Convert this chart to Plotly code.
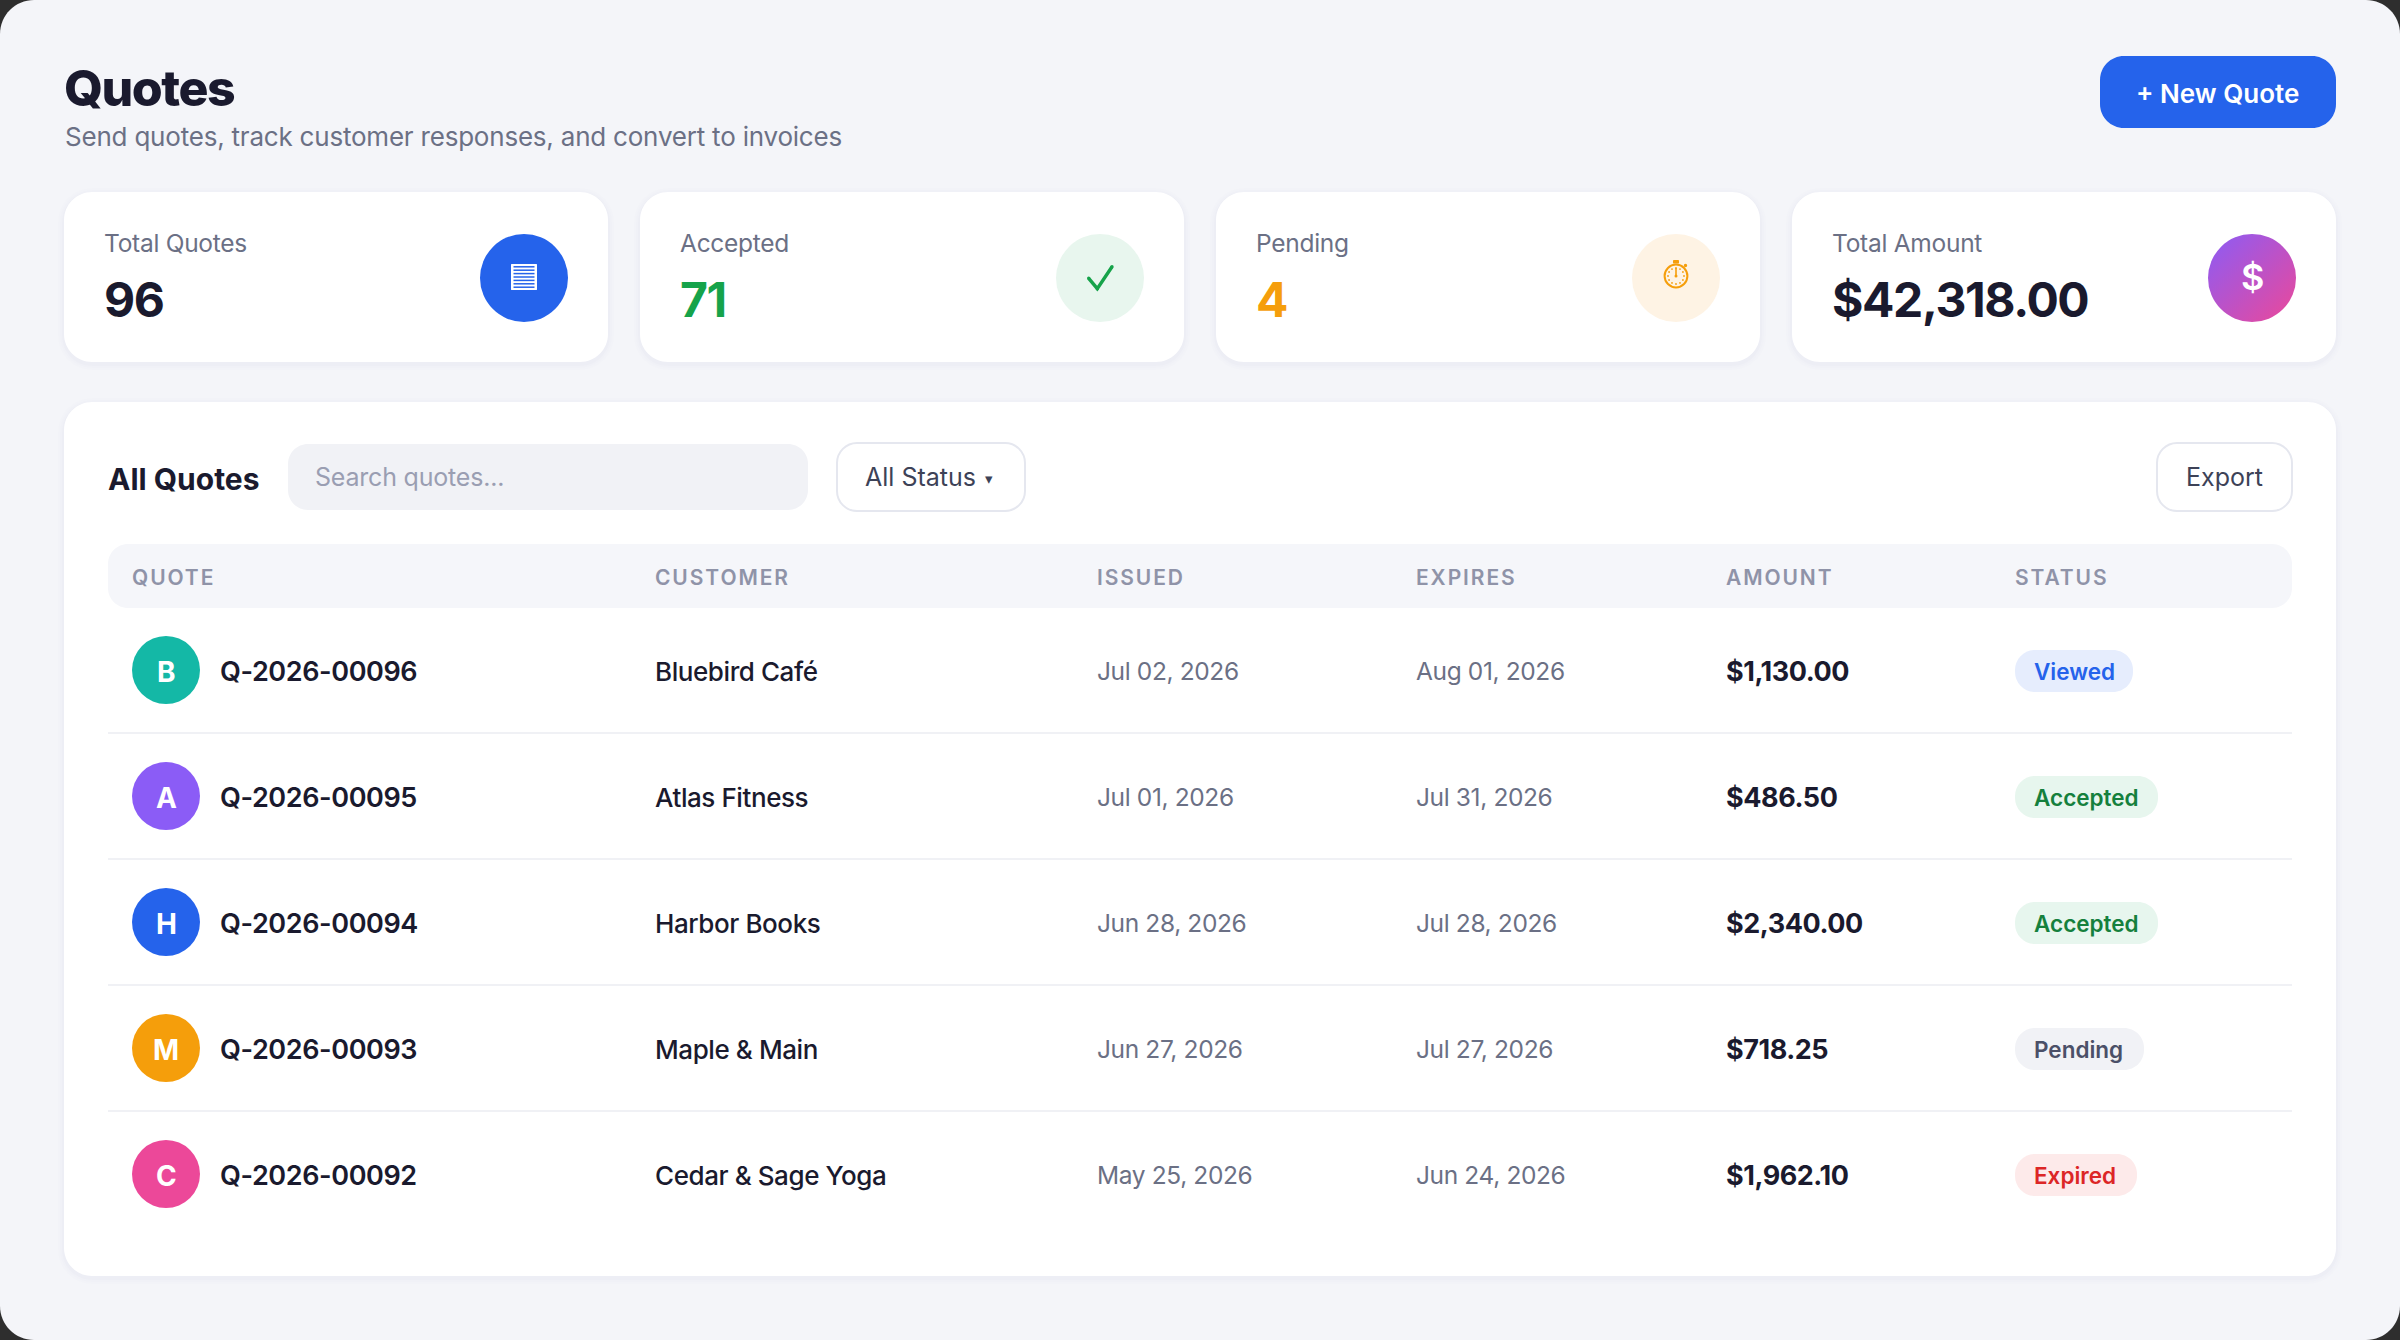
import json
import math
import plotly.graph_objects as go

# ---- data ----
page_title = "Quotes"
page_subtitle = "Send quotes, track customer responses, and convert to invoices"
stat_labels = ["Total Quotes", "Accepted", "Pending", "Total Amount"]
stat_values = ["96", "71", "4", "$42,318.00"]
column_heads = ["QUOTE", "CUSTOMER", "ISSUED", "EXPIRES", "AMOUNT", "STATUS"]
initials = ["B", "A", "H", "M", "C"]
quote_ids = ["Q-2026-00096", "Q-2026-00095", "Q-2026-00094", "Q-2026-00093", "Q-2026-00092"]
customers = ["Bluebird Café", "Atlas Fitness", "Harbor Books", "Maple & Main", "Cedar & Sage Yoga"]
issued = ["Jul 02, 2026", "Jul 01, 2026", "Jun 28, 2026", "Jun 27, 2026", "May 25, 2026"]
expires = ["Aug 01, 2026", "Jul 31, 2026", "Jul 28, 2026", "Jul 27, 2026", "Jun 24, 2026"]
amounts = ["$1,130.00", "$486.50", "$2,340.00", "$718.25", "$1,962.10"]
statuses = ["Viewed", "Accepted", "Accepted", "Pending", "Expired"]

# ---- style ----
W, H = 2400, 1340
FONT = "Inter"
INK = "#1a1a2e"
MUTED = "#6b7085"
PAGE = "#f4f5f9"
BLUE = "#2563eb"
GREEN = "#16a34a"
AMBER = "#f59e0b"
avatar_colors = ["#14b8a6", "#8b5cf6", BLUE, AMBER, "#ec4899"]
status_style = {
    "Viewed": ("#e6edfd", BLUE, 118),
    "Accepted": ("#e7f6ee", "#15803d", 143),
    "Pending": ("#f1f2f6", "#4b5068", 129),
    "Expired": ("#fdeaea", "#dc2626", 122),
}
stat_colors = [INK, GREEN, AMBER, INK]
icon_fill = [BLUE, "#e8f6ee", "#fef3e4", None]
col_x = [132, 655, 1097, 1416, 1726, 2015]
row_y = [670, 796, 922, 1048, 1174]
card_x = [64, 640, 1216, 1792]
CARD_W = 544

shapes, notes, spacing = [], [], []


def rrect(x0, y0, x1, y1, r, fill, line=None, lw=0, layer="below"):
    k = r * 0.4477
    p = (f"M{x0+r},{y0} L{x1-r},{y0} C{x1-k},{y0} {x1},{y0+k} {x1},{y0+r} "
         f"L{x1},{y1-r} C{x1},{y1-k} {x1-k},{y1} {x1-r},{y1} "
         f"L{x0+r},{y1} C{x0+k},{y1} {x0},{y1-k} {x0},{y1-r} "
         f"L{x0},{y0+r} C{x0},{y0+k} {x0+k},{y0} {x0+r},{y0} Z")
    shapes.append(dict(type="path", path=p, xref="x", yref="y", fillcolor=fill,
                       line=dict(color=line or "rgba(0,0,0,0)", width=lw), layer=layer))


def disc(cx, cy, r, fill, line=None, lw=0):
    shapes.append(dict(type="circle", xref="x", yref="y", x0=cx - r, x1=cx + r, y0=cy - r, y1=cy + r,
                       fillcolor=fill, line=dict(color=line or "rgba(0,0,0,0)", width=lw), layer="below"))


def seg(points, color, lw):
    p = "M" + " L".join(f"{x},{y}" for x, y in points)
    shapes.append(dict(type="path", path=p, xref="x", yref="y", fillcolor="rgba(0,0,0,0)",
                       line=dict(color=color, width=lw), layer="below"))


def shadowed(x0, y0, x1, y1, r):
    for g, a in [(6, 0.006), (4, 0.008), (2, 0.012)]:
        rrect(x0 - g, y0 - g + 2, x1 + g, y1 + g + 2, r + g, f"rgba(30,35,70,{a})")
    rrect(x0, y0, x1, y1, r, "#ffffff")


def text(x, y, s, size, color, weight=400, anchor="left", family=FONT, ls=0):
    notes.append(dict(x=x, y=y, text=s, xref="x", yref="y", xanchor=anchor, yanchor="middle",
                      showarrow=False, borderpad=0, borderwidth=0,
                      font=dict(family=family, size=size, color=color, weight=weight)))
    spacing.append(ls)


def list_icon(cx, cy):
    rrect(cx - 13, cy - 13, cx + 13, cy + 13, 0.5, "#ffffff")
    for k in range(7):
        yy = cy - 10.2 + k * 3.4
        seg([(cx - 10.5, yy), (cx + 10.5, yy)], BLUE, 1.5)


def check_icon(cx, cy):
    pts = [(cx - 11.3, cy + 1.3), (cx - 2.7, cy + 11.7), (cx + 12, cy - 10.3)]
    seg(pts, GREEN, 3.4)
    for x, y in pts:
        disc(x, y, 1.7, GREEN)


def watch_icon(cx, cy):
    disc(cx, cy + 1, 11.4, "rgba(0,0,0,0)", AMBER, 2)
    rrect(cx - 3, cy - 15, cx + 3, cy - 11.5, 1, AMBER)
    disc(cx + 9.5, cy - 9.5, 1.7, AMBER)
    for k in range(12):
        a = math.radians(k * 30)
        disc(cx + 8 * math.sin(a), cy + 1 - 8 * math.cos(a), 0.9, AMBER)
    seg([(cx, cy - 7), (cx, cy + 1)], AMBER, 1.6)
    disc(cx, cy + 1, 1.5, AMBER)


# window
rrect(0, 0, W, H, 34, PAGE)

# header
text(64, 88, page_title, 50, INK, 800, ls=-1.5)
text(64.5, 136.5, page_subtitle, 26, MUTED, ls=-0.21)
rrect(2100, 56, 2336, 128, 24, BLUE)
text(2217.5, 93, "+ New Quote", 26, "#ffffff", 600, "center")

# stat cards
images = []
for i, x in enumerate(card_x):
    shadowed(x, 192, x + CARD_W, 362, 28)
    text(x + 40, 243, stat_labels[i], 24.5, MUTED, ls=-0.27)
    text(x + 40, 299, stat_values[i], 48, stat_colors[i], 700, ls=-1.4)
    cx = 524 + 576 * i
    if icon_fill[i]:
        disc(cx, 278, 44, icon_fill[i])
    else:
        svg = ("data:image/svg+xml;utf8,<svg xmlns='http://www.w3.org/2000/svg' width='88' height='88'>"
               "<defs><linearGradient id='g' x1='0' y1='0' x2='1' y2='1'>"
               "<stop offset='0' stop-color='%238b5cf6'/><stop offset='1' stop-color='%23ec4899'/>"
               "</linearGradient></defs><circle cx='44' cy='44' r='44' fill='url(%23g)'/></svg>")
        images.append(dict(source=svg, xref="x", yref="y", x=cx - 44, y=234, sizex=88, sizey=88,
                           xanchor="left", yanchor="top", layer="below"))
list_icon(524, 277)
check_icon(1100, 277)
watch_icon(1676, 275)
text(2252, 277, "$", 36, "#ffffff", 600, "center")

# table panel
shadowed(64, 402, 2336, 1276, 28)
text(108, 479, "All Quotes", 30, INK, 700)
rrect(288, 444, 808, 510, 20, "#f1f2f6")
text(315, 477, "Search quotes...", 25, "#9a9eb2", ls=-0.2)
rrect(837, 443, 1025, 511, 20, "#ffffff", "#e5e7ef", 2)
text(865, 477, "All Status", 25, "#3d4257")
text(989, 478, "▾", 15, "#3d4257", anchor="center")
rrect(2157, 443, 2292, 511, 20, "#ffffff", "#e5e7ef", 2)
text(2224, 477, "Export", 25, "#3d4257", anchor="center")

rrect(108, 544, 2292, 608, 20, "#f5f6fa")
for x, head in zip(col_x, column_heads):
    text(x, 577, head, 21, "#8f93a8", 600, ls=1.9)

for i, y in enumerate(row_y):
    if i < len(row_y) - 1:
        shapes.append(dict(type="line", xref="x", yref="y", x0=108, x1=2292, y0=y + 63, y1=y + 63,
                           line=dict(color="#f0f1f5", width=2), layer="below"))
    text(166, y + 2, initials[i], 28, "#ffffff", 700, "center")
    text(220, y + 1, quote_ids[i], 27, INK, 600, ls=-0.4)
    text(col_x[1], y + 1, customers[i], 26, INK, 450, ls=-0.42)
    text(col_x[2], y + 1, issued[i], 24.5, MUTED, ls=-0.37)
    text(col_x[3], y + 1, expires[i], 24.5, MUTED, ls=-0.37)
    text(col_x[4], y + 1, amounts[i], 27, INK, 700, ls=-0.45)
    bg, fg, w = status_style[statuses[i]]
    rrect(col_x[5], y - 20, col_x[5] + w, y + 22, 20, bg)
    text(col_x[5] + 19, y + 1, statuses[i], 22.5, fg, 600)

fig = go.Figure()
fig.add_trace(go.Scatter(
    x=[166] * len(initials), y=row_y, mode="markers", hoverinfo="skip", showlegend=False,
    marker=dict(size=68, color=avatar_colors, line=dict(width=0)), cliponaxis=False))

fig.update_layout(
    width=W, height=H, margin=dict(l=0, r=0, t=0, b=0),
    paper_bgcolor="#2e2e2e", plot_bgcolor="rgba(0,0,0,0)",
    xaxis=dict(range=[0, W], visible=False, fixedrange=True),
    yaxis=dict(range=[H, 0], visible=False, fixedrange=True),
    shapes=shapes, annotations=notes, images=images, showlegend=False,
)

page_fix = """
document.body.style.margin = '0';
document.body.style.overflow = 'hidden';
var gd = document.getElementById('{plot_id}');
var ls = %s;
gd.querySelectorAll('.annotation-text').forEach(function (t, i) {
  if (!ls[i]) return;
  var box = t.getBBox();
  t.setAttribute('text-anchor', 'start');
  t.setAttribute('x', box.x);
  t.style.letterSpacing = ls[i] + 'px';
});
""" % json.dumps(spacing)

fig.write_html("out.html", post_script=page_fix, config={"displayModeBar": False})
